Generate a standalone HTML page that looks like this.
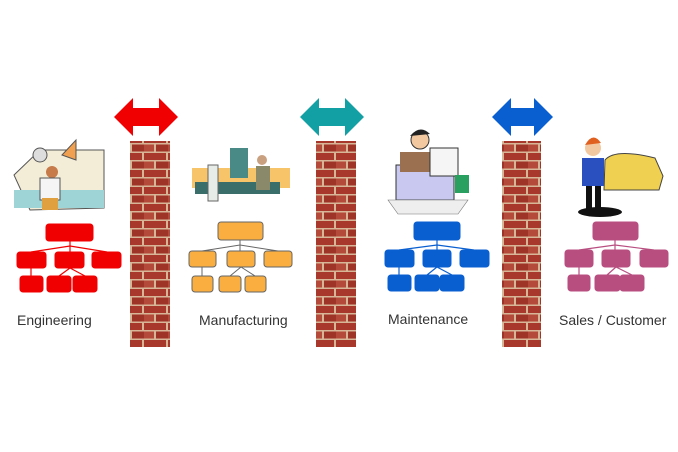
<!DOCTYPE html>
<html><head><meta charset="utf-8"><style>
html,body{margin:0;padding:0;background:#fff;width:678px;height:452px;overflow:hidden}
svg{display:block}
text{font-family:"Liberation Sans",sans-serif;font-size:14px;fill:#333}
</style></head><body>
<svg width="678" height="452" viewBox="0 0 678 452">
<defs>
<pattern id="brick" width="24" height="17" patternUnits="userSpaceOnUse">
<rect width="24" height="17" fill="#d7b597"/>
<rect x="0" y="0" width="22" height="7" fill="#a8382c"/>
<rect x="-12" y="8.5" width="22" height="7" fill="#b44a3a"/>
<rect x="12" y="8.5" width="22" height="7" fill="#9e3428"/>
</pattern>
</defs>
<rect x="130" y="141" width="40" height="206" fill="url(#brick)"/>
<rect x="316" y="141" width="40" height="206" fill="url(#brick)"/>
<rect x="502" y="141" width="39" height="206" fill="url(#brick)"/>
<polygon points="114,117 133,98 133,108 159,108 159,98 178,117 159,136 159,126 133,126 133,136" fill="#f00000"/>
<polygon points="300,117 319,98 319,108 345,108 345,98 364,117 345,136 345,126 319,126 319,136" fill="#12a0a4"/>
<polygon points="492,117 511,98 511,108 534,108 534,98 553,117 534,136 534,126 511,126 511,136" fill="#0a5fd0"/>

<g>
<polygon points="14,175 40,150 104,150 104,208 30,210" fill="#f3edd8" stroke="#555" stroke-width="1"/>
<rect x="14" y="190" width="90" height="18" fill="#9fd4d6"/>
<circle cx="40" cy="155" r="7" fill="#ddd" stroke="#555"/>
<polygon points="62,155 76,140 76,160" fill="#f0a050" stroke="#555"/>
<circle cx="52" cy="172" r="6" fill="#c77b4a"/>
<rect x="40" y="178" width="20" height="22" fill="#f5f5f5" stroke="#555"/>
<rect x="42" y="198" width="16" height="12" fill="#e0a040"/>
</g>
<g>
<rect x="192" y="168" width="98" height="20" fill="#f7c46a"/>
<rect x="195" y="182" width="85" height="12" fill="#3a6e6a"/>
<rect x="230" y="148" width="18" height="30" fill="#4a8a86"/>
<rect x="208" y="165" width="10" height="36" fill="#e8ece8" stroke="#666"/>
<circle cx="262" cy="160" r="5" fill="#c9a080"/>
<rect x="256" y="166" width="14" height="24" fill="#8a8a6a"/>
</g>
<g>
<rect x="396" y="165" width="58" height="35" fill="#c8c8f0" stroke="#333"/>
<rect x="400" y="152" width="30" height="20" fill="#9a7050"/>
<circle cx="420" cy="140" r="9" fill="#f2c8a0" stroke="#333"/>
<path d="M410,136 q10,-12 20,-2" fill="#222"/>
<rect x="430" y="148" width="28" height="28" fill="#f5f5f5" stroke="#333"/>
<rect x="455" y="175" width="14" height="18" fill="#2aa060"/>
<path d="M388,200 l80,0 l-10,14 l-60,0z" fill="#eee" stroke="#777" stroke-width=".6"/>
</g>
<g>
<path d="M605,160 q10,-12 50,-2 l8,18 l-4,14 l-55,0z" fill="#f0d050" stroke="#444"/>
<ellipse cx="600" cy="212" rx="22" ry="5" fill="#111"/>
<circle cx="593" cy="148" r="8" fill="#f2c8a0"/>
<path d="M585,145 q8,-14 16,-2" fill="#e06020"/>
<rect x="582" y="158" width="22" height="28" fill="#2a50c0"/>
<rect x="586" y="186" width="6" height="24" fill="#111"/>
<rect x="595" y="186" width="6" height="24" fill="#111"/>
</g>

<g fill="#f00000" stroke="#f00000">
<path fill="none" stroke-width="1.2" d="M70,241 V246 M31,252 L70,246 L107,252 M70,246 V252 M31,268 V276 M70,268 L59,276 M70,268 L85,276"/>
<rect x="46" y="224" width="47" height="17" rx="3"/>
<rect x="17" y="252" width="29" height="16" rx="3"/>
<rect x="55" y="252" width="29" height="16" rx="3"/>
<rect x="92" y="252" width="29" height="16" rx="3"/>
<rect x="20" y="276" width="23" height="16" rx="3"/>
<rect x="47" y="276" width="24" height="16" rx="3"/>
<rect x="73" y="276" width="24" height="16" rx="3"/>
</g>
<g fill="#fbae40" stroke="#666" stroke-width="1">
<path fill="none" d="M240,240 V245 M202,251 L240,245 L278,251 M240,245 V251 M202,267 V276 M241,267 L230,276 M241,267 L255,276"/>
<rect x="218" y="222" width="45" height="18" rx="3"/>
<rect x="189" y="251" width="27" height="16" rx="3"/>
<rect x="227" y="251" width="28" height="16" rx="3"/>
<rect x="264" y="251" width="28" height="16" rx="3"/>
<rect x="192" y="276" width="21" height="16" rx="3"/>
<rect x="219" y="276" width="22" height="16" rx="3"/>
<rect x="245" y="276" width="21" height="16" rx="3"/>
</g>
<g fill="#0a5fd0" stroke="#0a5fd0">
<path fill="none" stroke-width="1.2" d="M437,240 V245 M399,250 L437,245 L474,250 M437,245 V250 M399,267 V275 M437,267 L427,275 M437,267 L452,275"/>
<rect x="414" y="222" width="46" height="18" rx="3"/>
<rect x="385" y="250" width="29" height="17" rx="3"/>
<rect x="423" y="250" width="28" height="17" rx="3"/>
<rect x="460" y="250" width="29" height="17" rx="3"/>
<rect x="388" y="275" width="23" height="16" rx="3"/>
<rect x="415" y="275" width="24" height="16" rx="3"/>
<rect x="440" y="275" width="24" height="16" rx="3"/>
</g>
<g fill="#b84e80" stroke="#b84e80">
<path fill="none" stroke-width="1.2" d="M615,240 V245 M579,250 L615,245 L654,250 M615,245 V250 M579,267 V275 M616,267 L607,275 M616,267 L632,275"/>
<rect x="593" y="222" width="45" height="18" rx="3"/>
<rect x="565" y="250" width="28" height="17" rx="3"/>
<rect x="602" y="250" width="28" height="17" rx="3"/>
<rect x="640" y="250" width="28" height="17" rx="3"/>
<rect x="568" y="275" width="22" height="16" rx="3"/>
<rect x="595" y="275" width="25" height="16" rx="3"/>
<rect x="620" y="275" width="24" height="16" rx="3"/>
</g>

<text x="17" y="325">Engineering</text>
<text x="199" y="325">Manufacturing</text>
<text x="388" y="324">Maintenance</text>
<text x="559" y="325">Sales / Customer</text>
</svg>
</body></html>
